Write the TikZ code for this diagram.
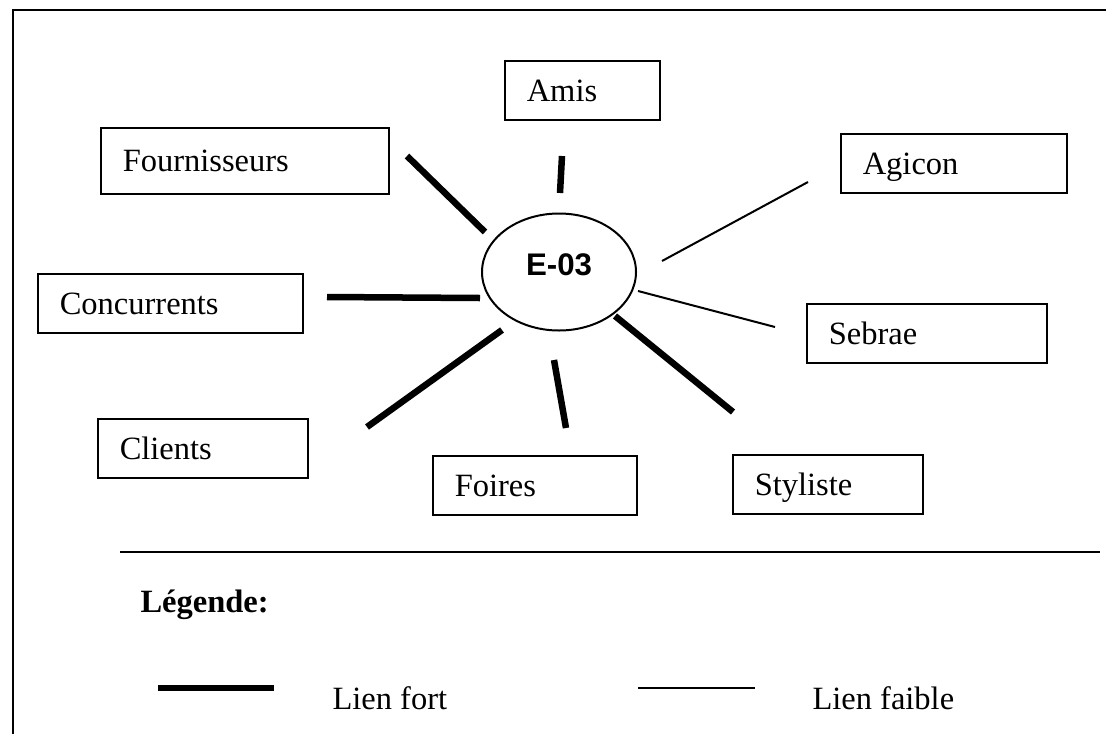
\documentclass[tikz,border=0pt]{standalone}
\usepackage{fontspec}
\setmainfont{Liberation Serif}
\newfontfamily\arialfont{Liberation Sans}
\usetikzlibrary{shapes.geometric}

\begin{document}
\begin{tikzpicture}[x=0.4pt, y=-0.4pt,
  boite/.style={draw, line width=0.6pt, anchor=north west, minimum height=23.6pt, inner xsep=8.8pt, text height=10pt, text depth=1.2pt, align=left, font=\fontsize{13}{15}\selectfont},
  texte/.style={anchor=base west, inner sep=0pt, font=\fontsize{13}{15}\selectfont},
  fort/.style={line width=2.6pt},
  faible/.style={line width=0.8pt}]
  \useasboundingbox (0,0) rectangle (1106,734);
  \draw[line width=0.6pt] (1106,10) -- (13,10) -- (13,734);

  \node[ellipse, draw, line width=0.8pt, minimum width=61.6pt, minimum height=46.8pt, text depth=5.6pt, font=\arialfont\bfseries\fontsize{12.5}{14}\selectfont] (E) at (559,272) {E-03};

  \node[boite, text width=44.4pt] (amis) at (504,60) {Amis};
  \node[boite, text width=97.6pt, minimum height=26.4pt] (four) at (100,127) {Fournisseurs};
  \node[boite, text width=72.8pt] (agicon) at (840,133) {Agicon};
  \node[boite, text width=88.4pt] (conc) at (37,273) {Concurrents};
  \node[boite, text width=78.4pt] (sebrae) at (806,303) {Sebrae};
  \node[boite, text width=66.4pt] (clients) at (97,418) {Clients};
  \node[boite, text width=64pt] (foires) at (432,455) {Foires};
  \node[boite, text width=58.4pt] (styl) at (732,454) {Styliste};

  \coordinate (four1) at (407,156); \coordinate (four2) at (485,232);
  \coordinate (amis1) at (562,156); \coordinate (amis2) at (560,193);
  \coordinate (agi1) at (808,182); \coordinate (agi2) at (662,261);
  \coordinate (conc1) at (327,297); \coordinate (conc2) at (480,298);
  \coordinate (seb1) at (775,327); \coordinate (seb2) at (638,291);
  \coordinate (cli1) at (367,427); \coordinate (cli2) at (502,330);
  \coordinate (foi1) at (566,428); \coordinate (foi2) at (554,360);
  \coordinate (sty1) at (733,412); \coordinate (sty2) at (615,316);

  \draw[fort] (four1) -- (four2);
  \draw[fort] (amis1) -- (amis2);
  \draw[faible] (agi1) -- (agi2);
  \draw[fort] (conc1) -- (conc2);
  \draw[faible] (seb1) -- (seb2);
  \draw[fort] (cli1) -- (cli2);
  \draw[fort] (foi1) -- (foi2);
  \draw[fort] (sty1) -- (sty2);

  \draw[line width=0.6pt] (120,552) -- (1100,552);
  \node[texte, font=\bfseries\fontsize{13}{15}\selectfont] (leg) at (140,612) {Légende:};
  \draw[fort] (158,688) -- (274,688);
  \node[texte] (lfort) at (332,709) {Lien fort};
  \draw[faible] (638,688) -- (755,688);
  \node[texte] (lfaible) at (812,709) {Lien faible};
\end{tikzpicture}
\end{document}
